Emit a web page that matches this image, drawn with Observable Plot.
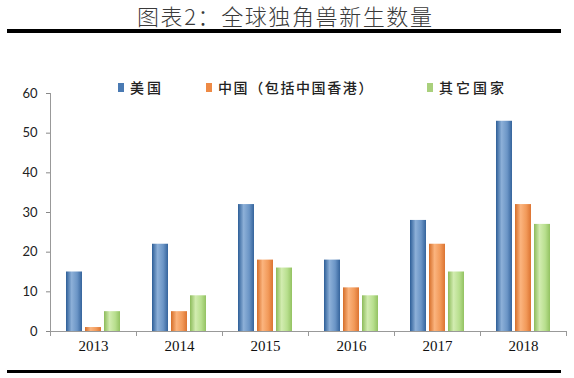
<!DOCTYPE html>
<html>
<head>
<meta charset="utf-8">
<script src="https://cdn.jsdelivr.net/npm/d3@7"></script>
<script src="https://cdn.jsdelivr.net/npm/@observablehq/plot@0.6"></script>
<style>
  html, body { margin: 0; padding: 0; background: #fff; }
  #wrap { position: relative; width: 574px; height: 378px; overflow: hidden; }
  #title { position: absolute; left: 0; top: 2px; width: 574px; text-align: left; padding-left: 137px; box-sizing: border-box;
    font-family: "Noto Sans CJK SC", sans-serif; font-weight: 300; font-size: 22px; letter-spacing: 1.6px; color: #3a3a3a; line-height: 26px; }
  .rule { position: absolute; left: 7px; width: 554px; background: #000; }
  #legend { position: absolute; top: 78px; left: 0; width: 574px; height: 20px;
    font-family: "Noto Sans CJK SC", sans-serif; font-weight: 500; font-size: 14px; color: #222; }
  .item { position: absolute; top: 0; display: flex; align-items: center; white-space: nowrap; line-height: 18px; }
  .sw { width: 6px; height: 9px; margin-right: 6px; }
  #chart { position: absolute; left: 0; top: 0; }
</style>
</head>
<body>
<div id="wrap">
  <div id="chart"></div>
  <div id="title">图表2：全球独角兽新生数量</div>
  <div class="rule" style="top:29px;height:4px;"></div>
  <div class="rule" style="top:370px;height:3px;"></div>
  <div id="legend"></div>
</div>
<script>
const years = ["2013", "2014", "2015", "2016", "2017", "2018"];
const seriesNames = ["美国", "中国（包括中国香港）", "其它国家"];
const usValues = [15, 22, 32, 18, 28, 53];
const cnValues = [1, 5, 18, 11, 22, 32];
const otherValues = [5, 9, 16, 9, 15, 27];
const yTicks = [0, 10, 20, 30, 40, 50, 60];

const seriesColors = ["#4a7ab3", "#ee8a45", "#a9d07c"];
const gradients = [
  ["gBlue", ["#2d5e97", "#8db0d8", "#6b95c6", "#35649c"]],
  ["gOrange", ["#d56d28", "#fbb47e", "#f29a5a", "#dc7432"]],
  ["gGreen", ["#8cbb5a", "#d2ecb0", "#b8df8e", "#93c262"]]
];

const valueArrays = [usValues, cnValues, otherValues];
const data = years.flatMap((year, i) =>
  seriesNames.map((s, j) => ({year, series: s, value: valueArrays[j][i]}))
);

const W = 574, H = 378;
const plot = Plot.plot({
  width: W,
  height: H,
  marginTop: 93,
  marginBottom: 47,
  marginLeft: 50,
  marginRight: 8,
  style: {background: "transparent"},
  fx: {domain: years, padding: 0, label: null},
  x: {domain: seriesNames, paddingInner: 0.16, paddingOuter: 0.84, axis: null},
  y: {domain: [0, 60], label: null},
  color: {domain: seriesNames, range: gradients.map(g => `url(#${g[0]})`)},
  marks: [
    Plot.axisY({ticks: yTicks, tickSize: 4, tickPadding: 9, label: null, fontSize: 13,
      fontFamily: "Lato, 'Open Sans', sans-serif", stroke: "#888", fill: "#222"}),
    Plot.axisFx({anchor: "bottom", tickSize: 0, tickPadding: 9, label: null, fontSize: 15,
      fontFamily: "'Liberation Serif', 'DejaVu Serif', serif", fill: "#111"}),
    Plot.barY(data, {fx: "year", x: "series", y: "value", fill: "series"}),
    Plot.ruleY([0], {stroke: "#999", strokeWidth: 1})
  ]
});

const svg = d3.select(plot);
const defs = svg.insert("defs", ":first-child");
gradients.forEach(([id, stops]) => {
  const g = defs.append("linearGradient").attr("id", id).attr("x1", 0).attr("x2", 1).attr("y1", 0).attr("y2", 0);
  const offs = [0, 0.35, 0.7, 1];
  stops.forEach((c, k) => g.append("stop").attr("offset", offs[k]).attr("stop-color", c));
});

const fx = plot.scale("fx");
const y = plot.scale("y");
const y0 = y.apply(0), yTop = y.apply(60);
const xLeft = fx.apply(years[0]);
const guides = svg.append("g").attr("stroke", "#999").attr("stroke-width", 1);
guides.append("line").attr("x1", xLeft + 0.5).attr("x2", xLeft + 0.5).attr("y1", yTop).attr("y2", y0);
const bounds = years.map(yr => fx.apply(yr)).concat([fx.apply(years[years.length - 1]) + fx.bandwidth]);
bounds.forEach(b => {
  guides.append("line").attr("x1", b + 0.5).attr("x2", b + 0.5).attr("y1", y0).attr("y2", y0 + 5);
});

document.getElementById("chart").appendChild(plot);

const legendPos = [118, 206, 427];
const legend = d3.select("#legend");
seriesNames.forEach((s, i) => {
  const it = legend.append("div").attr("class", "item").style("left", legendPos[i] + "px");
  it.append("div").attr("class", "sw").style("background", seriesColors[i]);
  it.append("span").style("letter-spacing", i === 1 ? "1.6px" : "3px").text(s);
});
</script>
</body>
</html>
